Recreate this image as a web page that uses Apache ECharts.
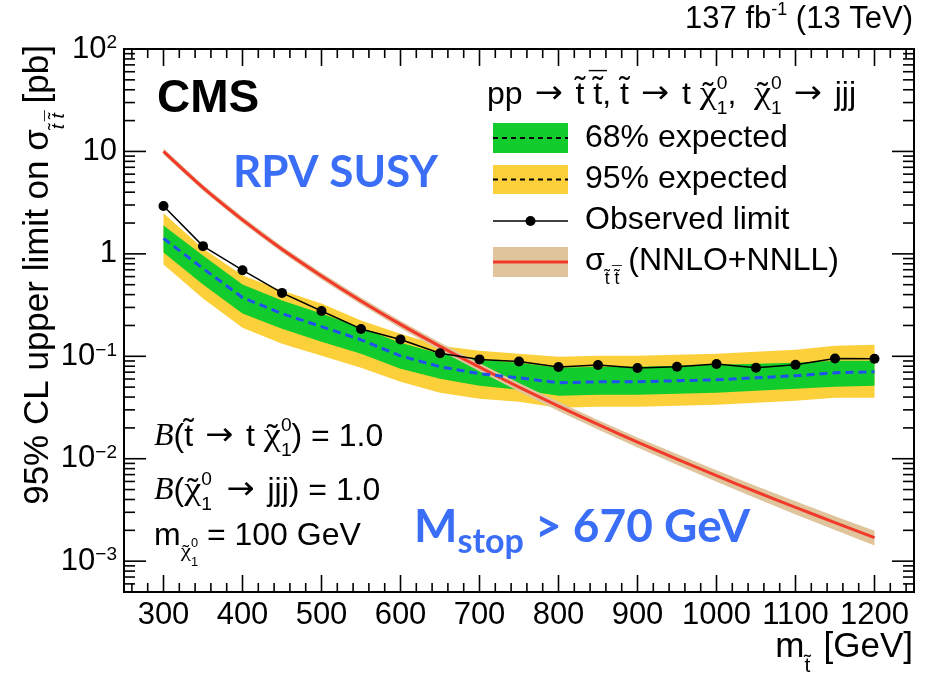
<!DOCTYPE html>
<html>
<head>
<meta charset="utf-8">
<script src="https://cdn.jsdelivr.net/npm/echarts@6/dist/echarts.min.js"></script>
<style>
html, body { margin: 0; padding: 0; background: #fff; }
#chart { width: 932px; height: 677px; }
</style>
</head>
<body>
<div id="chart"></div>
<script>
// Stop mass points [GeV]
const massPoints = [300, 350, 400, 450, 500, 550, 600, 650, 700, 750, 800, 850, 900, 950, 1000, 1050, 1100, 1150, 1200];

// Observed 95% CL upper limit [pb]
const observedLimit = [2.93, 1.19, 0.693, 0.416, 0.277, 0.185, 0.146, 0.107, 0.0933, 0.0891, 0.0786, 0.0822, 0.0768, 0.0791, 0.0841, 0.0773, 0.0828, 0.0953, 0.0946];

// Median expected limit [pb]
const expectedLimit = [1.415, 0.720, 0.375, 0.261, 0.195, 0.145, 0.101, 0.0791, 0.0676, 0.0617, 0.0551, 0.0564, 0.0564, 0.0577, 0.0590, 0.0617, 0.0646, 0.0691, 0.0707];

// 68% expected band
const expected68Up = [1.896, 0.965, 0.502, 0.350, 0.261, 0.1905, 0.1358, 0.1060, 0.0926, 0.0866, 0.0774, 0.0791, 0.0791, 0.0809, 0.0828, 0.0847, 0.0866, 0.0905, 0.0905];
const expected68Down = [1.032, 0.502, 0.261, 0.186, 0.139, 0.106, 0.0756, 0.0604, 0.0516, 0.0471, 0.0412, 0.0421, 0.0421, 0.0431, 0.0440, 0.0461, 0.0482, 0.0504, 0.0516];

// 95% expected band
const expected95Up = [2.485, 1.13, 0.62, 0.438, 0.327, 0.223, 0.166, 0.127, 0.1135, 0.106, 0.0991, 0.1014, 0.1014, 0.1037, 0.106, 0.1109, 0.116, 0.127, 0.130];
const expected95Down = [0.788, 0.366, 0.1905, 0.1329, 0.1014, 0.0774, 0.0564, 0.0440, 0.0385, 0.0360, 0.0314, 0.0321, 0.0321, 0.0329, 0.0336, 0.0352, 0.0368, 0.0393, 0.0393];

// Stop pair production cross section, NNLO+NNLL [pb], with its uncertainty band
const theoryXsec = [10.0, 4.43, 2.15, 1.11, 0.609, 0.347, 0.205, 0.125, 0.0783, 0.0500, 0.0326, 0.0216, 0.0145, 0.00991, 0.00683, 0.00476, 0.00335, 0.00238, 0.00170];
const theoryUp = [10.7, 4.74, 2.30, 1.19, 0.655, 0.374, 0.222, 0.136, 0.0853, 0.0548, 0.0359, 0.0239, 0.0161, 0.0111, 0.00770, 0.00541, 0.00384, 0.00275, 0.00198];
const theoryDown = [9.35, 4.13, 2.00, 1.03, 0.563, 0.320, 0.188, 0.114, 0.0713, 0.0452, 0.0293, 0.0193, 0.0129, 0.00872, 0.00596, 0.00411, 0.00286, 0.00201, 0.00142];

// Axis ranges and tick values
const xRange = [250, 1250];
const yRange = [5e-4, 100];
const xMajorTicks = [300, 400, 500, 600, 700, 800, 900, 1000, 1100, 1200];
const xMinorTicks = [];
for (let v = 260; v <= 1240; v += 20) if (v % 100 !== 0) xMinorTicks.push(v);
const yMajorTicks = [1e-3, 1e-2, 1e-1, 1, 10, 100];
const yMinorTicks = [];
for (let e = -4; e <= 1; e++) for (let k = 2; k <= 9; k++) {
  const v = k * Math.pow(10, e);
  if (v >= yRange[0] && v <= yRange[1]) yMinorTicks.push(v);
}
const yTickLabels = ['10{sup|\u22123}', '10{sup|\u22122}', '10{sup|\u22121}', '1', '10', '10{sup|2}'];

// Colours
const GREEN = '#12cc2d';
const YELLOW = '#fcd03a';
const TAN = '#e0c49c';
const RED = '#f23a2a';
const DASHBLUE = '#2050ee';
const TEXTBLUE = '#3b6ef6';

const FONT = '"Liberation Sans", Arial, Helvetica, sans-serif';
const SERIF = '"Liberation Serif", "Times New Roman", serif';
const ARROWFONT = '"DejaVu Sans", sans-serif';
const BLUEFONT = 'Lato, "Open Sans", sans-serif';

// Text measuring for composed labels with accents and sub/superscripts
const mctx = document.createElement('canvas').getContext('2d');
function measure(text, size, fam, weight, fstyle) {
  mctx.font = `${fstyle} ${weight} ${size}px ${fam}`;
  return mctx.measureText(text).width;
}

function richText(x, baseline, pieces, o) {
  const out = [];
  let cur = 0;
  const fam0 = o.family || FONT;
  const famOf = f => (f === 'serif' ? SERIF : f === 'arrow' ? ARROWFONT : fam0);
  for (const p of pieces) {
    const st = { fam: famOf(p.fam), weight: p.bold ? 'bold' : (o.weight || 'normal'), fstyle: p.italic ? 'italic' : 'normal' };
    if (p.t !== undefined) {
      const sz = o.size * (p.s || 1);
      const dy = (p.dy || 0) * o.size;
      const sx = p.sx || 1;
      const w = measure(p.t, sz, st.fam, st.weight, st.fstyle) * sx;
      const start = cur + (p.dx || 0) * o.size;
      out.push({ txt: p.t, px: start, dy, sz, st, sx });
      if (p.acc) {
        // accent marks drawn centred above the letter
        const ast = { fam: FONT, weight: 'normal', fstyle: 'normal' };
        const ady = dy + (p.accDy !== undefined ? p.accDy : 0.1) * sz;
        const wt = measure('\u02dc', sz, ast.fam, ast.weight, ast.fstyle);
        out.push({ txt: '\u02dc', px: start + (w - wt) / 2 + (p.accDx || 0) * sz, dy: ady, sz, st: ast, sx: 1 });
        if (p.acc === 'tildebar') {
          const wb = measure('\u00af', sz, ast.fam, ast.weight, ast.fstyle);
          out.push({ txt: '\u00af', px: start + (w - wb) / 2 + (p.accDx || 0) * sz, dy: ady + 0.16 * sz, sz, st: ast, sx: 1 });
        }
      }
      cur = start + w + (p.pad || 0) * o.size;
    } else {
      const sz = o.size * (p.s || 0.6);
      const st2 = { fam: fam0, weight: st.weight, fstyle: 'normal' };
      let w = 0;
      if (p.sup) {
        out.push({ txt: p.sup, px: cur, dy: (p.supDy !== undefined ? p.supDy : 0.5) * o.size, sz, st: st2, sx: 1 });
        w = Math.max(w, measure(p.sup, sz, st2.fam, st2.weight, st2.fstyle));
      }
      if (p.sub) {
        out.push({ txt: p.sub, px: cur, dy: (p.subDy !== undefined ? p.subDy : -0.3) * o.size, sz, st: st2, sx: 1 });
        w = Math.max(w, measure(p.sub, sz, st2.fam, st2.weight, st2.fstyle));
      }
      cur += w + (p.pad || 0) * o.size;
    }
  }
  const x0 = o.align === 'right' ? x - cur : (o.align === 'center' ? x - cur / 2 : x);
  return out.map(e => ({
    type: 'text', x: x0 + e.px, y: baseline - e.dy - 0.35 * e.sz, scaleX: e.sx, silent: true, z: 100,
    style: {
      text: e.txt, fontSize: e.sz, fontFamily: e.st.fam, fontWeight: e.st.weight,
      fontStyle: e.st.fstyle, fill: o.fill || '#000', align: 'left', verticalAlign: 'middle'
    }
  }));
}

// building blocks for the particle names
const stopP = (extra) => Object.assign({ t: 't', acc: 'tilde', accDy: 0.14 }, extra || {});
const antistopP = (extra) => Object.assign({ t: 't', acc: 'tildebar', accDy: 0.14 }, extra || {});
const chiP = (extra) => Object.assign({ t: '\u03c7', fam: 'serif', sx: 1.2, acc: 'tilde', accDy: -0.04 }, extra || {});
const arrowP = { t: '\u2192', fam: 'arrow', sx: 1.05, dx: 0.1, pad: 0.12 };

const graphics = [];
// luminosity / energy
graphics.push(...richText(913, 30, [
  { t: '137 fb' }, { t: '-1', s: 0.58, dy: 0.45 }, { t: ' (13 TeV)' }
], { size: 31, align: 'right' }));
// CMS
graphics.push(...richText(157, 115, [{ t: 'CMS' }], { size: 46, weight: 'bold' }));
// RPV SUSY
graphics.push(...richText(233, 188, [{ t: 'RPV SUSY' }], { size: 44, weight: 'bold', family: BLUEFONT, fill: TEXTBLUE }));
// mass exclusion
graphics.push(...richText(414, 543, [
  { t: 'M' }, { t: 'stop', s: 0.74, dy: -0.24 }, { t: ' > 670 GeV' }
], { size: 46, weight: 'bold', family: BLUEFONT, fill: TEXTBLUE }));
// process header
graphics.push(...richText(487, 106, [
  { t: 'pp ' }, arrowP, { t: ' ' }, stopP(), { t: ' ' }, antistopP(), { t: ', ' }, stopP(),
  { t: ' ' }, arrowP, { t: ' t ' }, chiP(), { sup: '0', sub: '1' }, { t: ',  ' },
  chiP(), { sup: '0', sub: '1' }, { t: ' ' }, arrowP, { t: ' jjj' }
], { size: 32 }));
// model assumptions
graphics.push(...richText(154, 448, [
  { t: 'B', fam: 'serif', italic: true }, { t: '(' }, stopP(), { t: ' ' }, arrowP, { t: ' t ' },
  chiP(), { sup: '0', sub: '1' }, { t: ') = 1.0' }
], { size: 32 }));
graphics.push(...richText(154, 502, [
  { t: 'B', fam: 'serif', italic: true }, { t: '(' }, chiP(),
  { sup: '0', sub: '1', pad: 0.08 }, { t: ' ' }, arrowP, { t: ' jjj) = 1.0' }
], { size: 32 }));
graphics.push(...richText(154, 547, [
  { t: 'm' }, chiP({ s: 0.6, dy: -0.38 }),
  { sup: '0', sub: '1', s: 0.4, supDy: -0.02, subDy: -0.62 }, { t: ' = 100 GeV' }
], { size: 32 }));

// legend
const LX = 493, LW = 75, TX = 585;
graphics.push(
  { type: 'rect', z: 90, shape: { x: LX, y: 123, width: LW, height: 30 }, style: { fill: GREEN } },
  { type: 'line', z: 91, shape: { x1: LX, y1: 138, x2: LX + LW, y2: 138 }, style: { stroke: '#000', lineWidth: 2, lineDash: [5, 4] } },
  { type: 'rect', z: 90, shape: { x: LX, y: 165, width: LW, height: 29 }, style: { fill: YELLOW } },
  { type: 'line', z: 91, shape: { x1: LX, y1: 179.5, x2: LX + LW, y2: 179.5 }, style: { stroke: '#000', lineWidth: 2, lineDash: [5, 4] } },
  { type: 'line', z: 91, shape: { x1: LX, y1: 221, x2: LX + LW, y2: 221 }, style: { stroke: '#000', lineWidth: 1.5 } },
  { type: 'circle', z: 92, shape: { cx: LX + LW / 2, cy: 221, r: 5 }, style: { fill: '#000' } },
  { type: 'rect', z: 90, shape: { x: LX, y: 247, width: LW, height: 30 }, style: { fill: TAN } },
  { type: 'line', z: 91, shape: { x1: LX, y1: 262, x2: LX + LW, y2: 262 }, style: { stroke: RED, lineWidth: 3 } }
);
graphics.push(...richText(TX, 149, [{ t: '68% expected' }], { size: 32 }));
graphics.push(...richText(TX, 190, [{ t: '95% expected' }], { size: 32 }));
graphics.push(...richText(TX, 231, [{ t: 'Observed limit' }], { size: 32 }));
graphics.push(...richText(TX, 272, [
  { t: '\u03c3' }, stopP({ s: 0.55, dy: -0.42 }), { t: ' ', s: 0.55 }, antistopP({ s: 0.55, dy: -0.42 }),
  { t: ' (NNLO+NNLL)' }
], { size: 32 }));

// axis titles
graphics.push({
  type: 'group', x: 51, y: 45, rotation: Math.PI / 2,
  children: richText(0, 0, [
    { t: '95% CL upper limit on \u03c3' },
    stopP({ s: 0.55, dy: -0.4, italic: true }), { t: ' ', s: 0.55 }, antistopP({ s: 0.55, dy: -0.4, italic: true }),
    { t: ' [pb]' }
  ], { size: 35, align: 'right' })
});
graphics.push(...richText(913, 660, [
  { t: 'm' }, stopP({ s: 0.6, dy: -0.38, pad: 0.1 }), { t: ' [GeV]' }
], { size: 35, align: 'right' }));

// band polygon from upper/lower value arrays
function bandSeries(name, up, down, color, z) {
  return {
    type: 'custom', name, z, silent: true, clip: true,
    data: massPoints.map((m, i) => [m, up[i]]),
    renderItem(params, api) {
      if (params.dataIndex !== 0) return;
      const pts = massPoints.map((m, i) => api.coord([m, up[i]]));
      for (let i = massPoints.length - 1; i >= 0; i--) pts.push(api.coord([massPoints[i], down[i]]));
      return { type: 'polygon', shape: { points: pts }, style: { fill: color } };
    }
  };
}

const chart = echarts.init(document.getElementById('chart'), null, { renderer: 'canvas' });
chart.setOption({
  animation: false,
  backgroundColor: '#fff',
  grid: { left: 124, right: 18, top: 49, bottom: 85, show: true, borderColor: '#000', borderWidth: 2, backgroundColor: 'transparent' },
  xAxis: {
    type: 'value', min: xRange[0], max: xRange[1], interval: 50,
    axisLine: { show: false }, axisTick: { show: false }, splitLine: { show: false },
    axisLabel: {
      color: '#000', fontSize: 31, fontFamily: FONT, margin: 8,
      formatter: v => (v % 100 === 0 ? String(v) : '')
    }
  },
  yAxis: {
    type: 'log', logBase: 10, min: yRange[0], max: yRange[1],
    axisLine: { show: false }, axisTick: { show: false }, splitLine: { show: false },
    axisLabel: {
      color: '#000', fontSize: 31, fontFamily: FONT, margin: 7,
      formatter: v => {
        const l = Math.log10(v), e = Math.round(l);
        if (Math.abs(l - e) > 1e-6 || e < -3 || e > 2) return '';
        return yTickLabels[e + 3];
      },
      rich: { sup: { fontSize: 19, fontFamily: FONT, color: '#000', verticalAlign: 'top', padding: [0, 0, 10, 0] } }
    }
  },
  graphic: graphics,
  series: [
    bandSeries('95% expected', expected95Up, expected95Down, YELLOW, 1),
    bandSeries('68% expected', expected68Up, expected68Down, GREEN, 2),
    bandSeries('theory band', theoryUp, theoryDown, TAN, 3),
    {
      type: 'line', name: 'theory', z: 4, data: massPoints.map((m, i) => [m, theoryXsec[i]]),
      smooth: 0.3, symbol: 'none', lineStyle: { color: RED, width: 3 }
    },
    {
      type: 'line', name: 'expected', z: 5, data: massPoints.map((m, i) => [m, expectedLimit[i]]),
      symbol: 'none', lineStyle: { color: DASHBLUE, width: 3, type: [8, 5] }
    },
    {
      type: 'line', name: 'observed', z: 6, data: massPoints.map((m, i) => [m, observedLimit[i]]),
      symbol: 'circle', symbolSize: 10, itemStyle: { color: '#000' }, lineStyle: { color: '#000', width: 1.5 }
    },
    {
      type: 'custom', name: 'ticks', z: 10, silent: true, clip: false,
      data: [[xRange[0], yRange[0]]],
      renderItem(params, api) {
        const kids = [];
        const seg = (a, b) => kids.push({ type: 'line', shape: { x1: a[0], y1: a[1], x2: b[0], y2: b[1] }, style: { stroke: '#000', lineWidth: 1.6 } });
        const xTick = (v, len) => {
          const b = api.coord([v, yRange[0]]), t = api.coord([v, yRange[1]]);
          seg(b, [b[0], b[1] - len]);
          seg(t, [t[0], t[1] + len]);
        };
        const yTick = (v, len) => {
          const l = api.coord([xRange[0], v]), r = api.coord([xRange[1], v]);
          seg(l, [l[0] + len, l[1]]);
          seg(r, [r[0] - len, r[1]]);
        };
        xMajorTicks.forEach(v => xTick(v, 17));
        xMinorTicks.forEach(v => xTick(v, 9));
        yMajorTicks.forEach(v => yTick(v, 22));
        yMinorTicks.forEach(v => yTick(v, 11));
        return { type: 'group', children: kids };
      }
    }
  ]
});
</script>
</body>
</html>
